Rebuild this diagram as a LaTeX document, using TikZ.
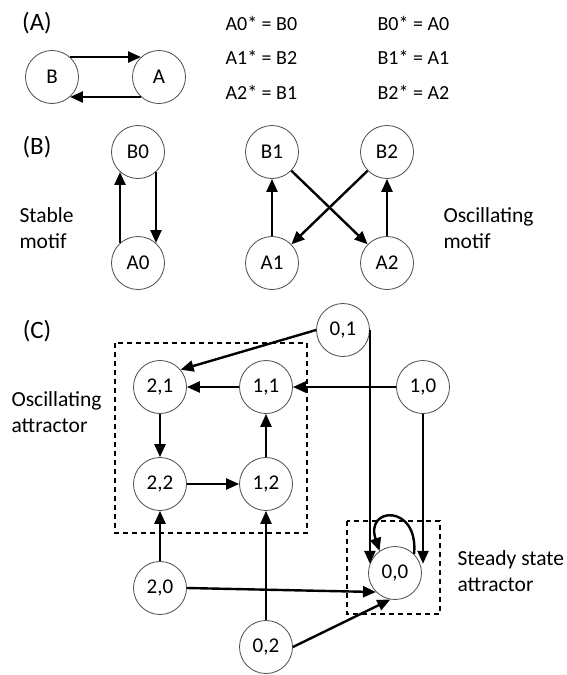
\documentclass[tikz,border=0pt]{standalone}
\usepackage{fontspec}
\setmainfont{Carlito}
\usetikzlibrary{arrows.meta,calc}

\begin{document}
\begin{tikzpicture}[x=1pt, y=-1pt,
  every node/.style={font=\fontsize{21.5}{26}\selectfont},
  state/.style={circle, draw=black!70, line width=0.8pt, fill=white, minimum size=53pt, inner sep=0pt, font=\fontsize{21}{24}\selectfont},
  panel/.style={font=\fontsize{25}{30}\selectfont},
  eqn/.style={anchor=west, font=\fontsize{20}{24}\selectfont},
  arr/.style={-{Triangle[length=13pt,width=11pt]}, line width=2.4pt},
  zone/.style={dashed, dash pattern=on 5pt off 4pt, line width=1.1pt}]
\useasboundingbox (0,0) rectangle (566,675);

% (A)
\node[panel] (labA) at (37,23) {(A)};
\node[state] (B) at (52,77) {B};
\node[state] (A) at (159,77) {A};
\draw[arr] (B.48) -- (A.132);
\draw[arr] (A.-132) -- (B.-48);
\node[eqn] (eqA0) at (222,23) {A0* = B0};
\node[eqn] (eqA1) at (222,57) {A1* = B2};
\node[eqn] (eqA2) at (222,92) {A2* = B1};
\node[eqn] (eqB0) at (374,23) {B0* = A0};
\node[eqn] (eqB1) at (374,57) {B1* = A1};
\node[eqn] (eqB2) at (374,92) {B2* = A2};

% (B)
\node[panel] (labB) at (37,147) {(B)};
\node[state] (B0) at (138,152) {B0};
\node[state] (A0) at (138,263) {A0};
\draw[arr] (A0.132) -- (B0.-132);
\draw[arr] (B0.-48) -- (A0.48);
\node[anchor=west, align=left] (stab) at (16,228) {Stable\\motif};
\node[state] (B1) at (272,152) {B1};
\node[state] (B2) at (387,152) {B2};
\node[state] (A1) at (272,263) {A1};
\node[state] (A2) at (387,263) {A2};
\draw[arr] (A1) -- (B1);
\draw[arr] (A2) -- (B2);
\draw[arr] (B1) -- (A2);
\draw[arr] (B2) -- (A1);
\node[anchor=west, align=left] (osc) at (440,228) {Oscillating\\motif};

% (C)
\node[panel] (labC) at (37,331) {(C)};
\draw[zone] (115,343) rectangle (307,533);
\draw[zone] (347,521) rectangle (440,614);
\node[anchor=west, align=left] (oscatt) at (8,412) {Oscillating\\attractor};
\node[anchor=west, align=left] (steady) at (454,571) {Steady state\\attractor};
\node[state] (c01) at (343,330) {0,1};
\node[state] (c21) at (160,387) {2,1};
\node[state] (c11) at (266,387) {1,1};
\node[state] (c10) at (423,387) {1,0};
\node[state] (c22) at (160,484) {2,2};
\node[state] (c12) at (266,484) {1,2};
\node[state] (c00) at (395,573) {0,0};
\node[state] (c20) at (160,588) {2,0};
\node[state] (c02) at (266,647) {0,2};
\draw[arr] (c01.west) -- (c21.40);
\draw[arr] (c10) -- (c11);
\draw[arr] (c11) -- (c21);
\draw[arr] (c21) -- (c22);
\draw[arr] (c22) -- (c12);
\draw[arr] (c12) -- (c11);
\draw[arr] (c20) -- (c22);
\draw[arr] (c02) -- (c12);
\draw[arr] (c01.east) -- (c01.east |- c00.160);
\draw[arr] (c10.south) -- (c10.south |- c00.20);
\draw[arr] (c20.east) -- (c00.225);
\draw[arr] (c02.east) -- (c00.260);
\draw[arr] (c00.45) .. controls +(5,-50) and +(-15,-45) .. (c00.125);
\end{tikzpicture}
\end{document}
